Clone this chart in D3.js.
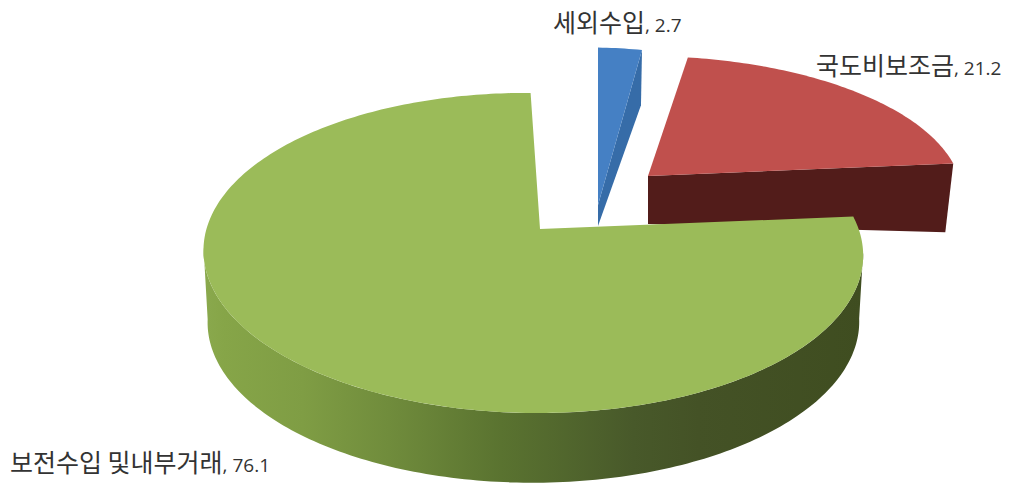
<!DOCTYPE html>
<html>
<head>
<meta charset="utf-8">
<script src="https://cdnjs.cloudflare.com/ajax/libs/d3/7.8.5/d3.min.js"></script>
<style>
  html, body { margin:0; padding:0; background:#fff; }
  svg { display:block; }
</style>
</head>
<body>
<svg id="drawing_region"></svg>
<script>
const categories = ['세외수입', '국도비보조금', '보전수입 및내부거래'];
const values = [2.7, 21.2, 76.1];

const width = 1010, height = 483;
const deg = Math.PI / 180;

// pie starts a bit left of 12 o'clock
const pie_start = -2.4 * deg;

// perspective of the tilted disc: p = toward the back, q = toward the right
const persp = { p:0.15, q:0.02 };

// each slice was exploded by hand in excel so the planes are fitted one by one
const layout = [
    { top:{x:598, y:205, rx:300, ry:181, turn:2.4, tilt:0},
      bottom:{x:598, y:226, rx:293, ry:141, turn:2.4, tilt:0},
      fill:'#4580c4', side:'#366ca8', label:{x:553, y:32} },
    { top:{x:648, y:176, rx:317, ry:138, turn:1, tilt:0},
      bottom:{x:648, y:224, rx:301, ry:130, turn:10, tilt:0},
      fill:'#c0504d', side:'#521c1a', label:{x:816, y:75} },
    { top:{x:540, y:229, rx:326, ry:156.4, turn:0.5, tilt:3},
      bottom:{x:540, y:298, rx:322, ry:157, turn:0.5, tilt:0},
      fill:'#9bbb59', side:'url(#green_side)', label:{x:10, y:472} }
];

// the round edge shows between these angles, where the rim turns away
const band_from = 97 * deg, band_to = 262 * deg;

const svg = d3.select('#drawing_region')
    .attr('width', width)
    .attr('height', height);

// shading of the round edge
const band_stops = [
    [0, '#8aa94d'], [0.03, '#86a548'], [0.15, '#7f9d44'], [0.28, '#708c3c'],
    [0.45, '#5a7330'], [0.65, '#48592a'], [0.75, '#445226'], [1, '#3f4d20']
];
const grad = svg.append('defs').append('linearGradient')
    .attr('id', 'green_side')
    .attr('gradientUnits', 'userSpaceOnUse')
    .attr('x1', 204).attr('x2', 864).attr('y1', 0).attr('y2', 0);
grad.selectAll('stop')
    .data(band_stops)
    .enter()
    .append('stop')
    .attr('offset', d => d[0])
    .attr('stop-color', d => d[1]);

const pie = d3.pie()
    .sort(null)
    .startAngle(pie_start)
    .endAngle(pie_start + 2 * Math.PI);
const arcs = pie(values);

function project( plane, a ) {
    const t = a + plane.turn * deg;
    const u = Math.sin(t), v = Math.cos(t);
    const w = 1 + persp.p * v + persp.q * u;
    return [ plane.x + plane.rx * u / w, plane.y - plane.ry * v / w + plane.tilt * u ];
}

function sweep( plane, a0, a1 ) {
    const n = Math.max(2, Math.ceil(Math.abs(a1 - a0) / deg));
    return d3.range(n + 1).map( i => project(plane, a0 + (a1 - a0) * i / n) );
}

const line = d3.line();
const center = plane => [plane.x, plane.y];

// back to front
const order = [1, 0, 2];
const chart = svg.append('g');

order.forEach( i => {
    const d = arcs[i], s = layout[i];
    const g = chart.append('g');

    if ( i === 2 ) {
        // outer edge, only the part that faces us
        const upper = sweep(s.top, band_from, band_to);
        const lower = sweep(s.bottom, band_to, band_from);
        g.append('path')
            .attr('d', line(upper.concat(lower)) + 'Z')
            .attr('fill', s.side);
    } else {
        // cut face below the top plane
        const pts = [ center(s.top), project(s.top, d.endAngle),
                      project(s.bottom, d.endAngle), center(s.bottom) ];
        g.append('path')
            .attr('d', line(pts) + 'Z')
            .attr('fill', s.side);
    }

    const top_pts = [center(s.top)].concat(sweep(s.top, d.startAngle, d.endAngle));
    g.append('path')
        .attr('d', line(top_pts) + 'Z')
        .attr('fill', s.fill);
});

// labels
const label = svg.selectAll('.label')
    .data(categories)
    .enter()
    .append('text')
    .attr('class', 'label')
    .attr('x', (d, i) => layout[i].label.x)
    .attr('y', (d, i) => layout[i].label.y)
    .attr('fill', '#333')
    .style('font-family', '"Noto Sans CJK KR", sans-serif')
    .style('font-size', '25px');
label.append('tspan')
    .text( d => d );
label.append('tspan')
    .style('font-family', '"Open Sans", sans-serif')
    .style('font-size', '19px')
    .text( (d, i) => ', ' + values[i] );
</script>
</body>
</html>
